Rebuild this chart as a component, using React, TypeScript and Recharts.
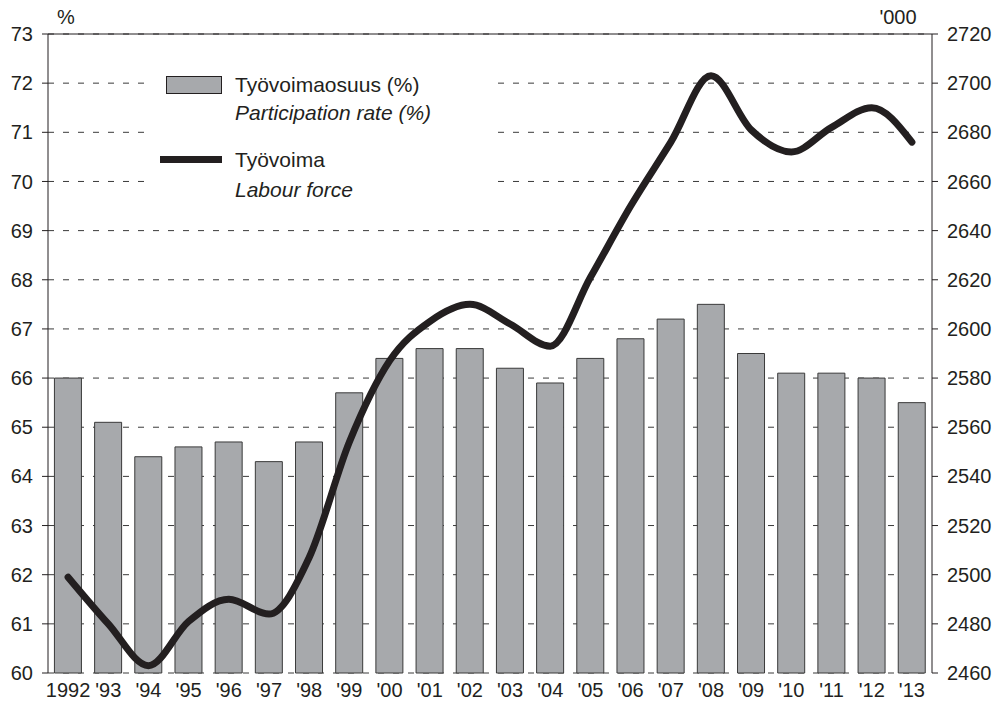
import {
    ComposedChart,
    Bar,
    Line,
    XAxis,
    YAxis,
    CartesianGrid,
    ReferenceLine,
    Legend,
} from "recharts";

const years = ["1992", "'93", "'94", "'95", "'96", "'97", "'98", "'99", "'00", "'01", "'02", "'03", "'04", "'05", "'06", "'07", "'08", "'09", "'10", "'11", "'12", "'13"];
const participationRate = [66.0, 65.1, 64.4, 64.6, 64.7, 64.3, 64.7, 65.7, 66.4, 66.6, 66.6, 66.2, 65.9, 66.4, 66.8, 67.2, 67.5, 66.5, 66.1, 66.1, 66.0, 65.5];
const labourForce = [2499, 2480, 2463, 2481, 2490, 2484, 2507, 2554, 2587, 2603, 2610, 2602, 2593, 2621, 2650, 2676, 2703, 2681, 2672, 2682, 2690, 2676];
const leftTicks = [60, 61, 62, 63, 64, 65, 66, 67, 68, 69, 70, 71, 72, 73];
const rightTicks = [2460, 2480, 2500, 2520, 2540, 2560, 2580, 2600, 2620, 2640, 2660, 2680, 2700, 2720];
const edgeTicks = [-0.5, 0.5, 1.5, 2.5, 3.5, 4.5, 5.5, 6.5, 7.5, 8.5, 9.5, 10.5, 11.5, 12.5, 13.5, 14.5, 15.5, 16.5, 17.5, 18.5, 19.5, 20.5, 21.5];

const data = years.map((year, i) => ({ year, rate: participationRate[i], force: labourForce[i] }));

const INK = "#231f20";
const FONT = '"Liberation Sans", Arial, Helvetica, sans-serif';
const tickStyle = { fontSize: 20, fill: INK, fontFamily: FONT };

const LegendBox = () => (
    <div style={{ background: "#fff", width: 345, height: 165, position: "relative", fontFamily: FONT, fontSize: 21, color: INK }}>
        <div style={{ position: "absolute", left: 16, top: 24, width: 54, height: 16, background: "#a7a9ac", border: `1px solid ${INK}` }} />
        <div style={{ position: "absolute", left: 85, top: 22, lineHeight: "22px", whiteSpace: "nowrap" }}>Työvoimaosuus (%)</div>
        <div style={{ position: "absolute", left: 85, top: 50, lineHeight: "22px", fontStyle: "italic", whiteSpace: "nowrap" }}>Participation rate (%)</div>
        <div style={{ position: "absolute", left: 10, top: 104, width: 62, height: 7, background: INK }} />
        <div style={{ position: "absolute", left: 85, top: 97, lineHeight: "22px", whiteSpace: "nowrap" }}>Työvoima</div>
        <div style={{ position: "absolute", left: 85, top: 127, lineHeight: "22px", fontStyle: "italic", whiteSpace: "nowrap" }}>Labour force</div>
    </div>
);

export default function App() {
    return (
        <div style={{ position: "absolute", left: 0, top: 0, width: 1001, height: 712, background: "#fff" }}>
            <ComposedChart
                width={1001}
                height={712}
                data={data}
                margin={{ top: 34, right: 0, bottom: 0, left: 0 }}
                barCategoryGap="16%"
            >
                <CartesianGrid yAxisId="left" vertical={false} stroke="#3a3a3a" strokeDasharray="6 9" />
                <XAxis
                    xAxisId="edges"
                    type="number"
                    domain={[-0.5, 21.5]}
                    ticks={edgeTicks}
                    allowDataOverflow
                    tick={false}
                    height={0}
                    tickSize={6}
                    stroke={INK}
                    axisLine={{ stroke: INK }}
                    tickLine={{ stroke: INK }}
                />
                <XAxis
                    dataKey="year"
                    height={39}
                    interval={0}
                    tickLine={false}
                    axisLine={false}
                    tickSize={6}
                    tickMargin={4}
                    tick={tickStyle}
                />
                <YAxis
                    yAxisId="left"
                    width={48}
                    domain={[60, 73]}
                    ticks={leftTicks}
                    interval={0}
                    tickSize={6}
                    tickMargin={9}
                    stroke={INK}
                    tick={tickStyle}
                />
                <YAxis
                    yAxisId="right"
                    orientation="right"
                    width={69}
                    domain={[2460, 2720]}
                    ticks={rightTicks}
                    interval={0}
                    tickSize={6}
                    tickMargin={9}
                    stroke={INK}
                    tick={tickStyle}
                />
                <ReferenceLine yAxisId="left" y={73} stroke={INK} strokeWidth={1} />
                <Bar
                    yAxisId="left"
                    dataKey="rate"
                    fill="#a7a9ac"
                    stroke="#3a3a3a"
                    strokeWidth={1}
                    isAnimationActive={false}
                />
                <Line
                    yAxisId="right"
                    dataKey="force"
                    type="monotone"
                    stroke={INK}
                    strokeWidth={7}
                    strokeLinecap="round"
                    dot={false}
                    activeDot={false}
                    isAnimationActive={false}
                />
                <Legend
                    layout="vertical"
                    align="center"
                    verticalAlign="middle"
                    wrapperStyle={{ top: 52, left: 150, width: 345 }}
                    content={() => <LegendBox />}
                />
                <text x={66} y={24} textAnchor="middle" style={{ ...tickStyle }}>%</text>
                <text x={898} y={24} textAnchor="middle" style={{ ...tickStyle }}>'000</text>
            </ComposedChart>
        </div>
    );
}
